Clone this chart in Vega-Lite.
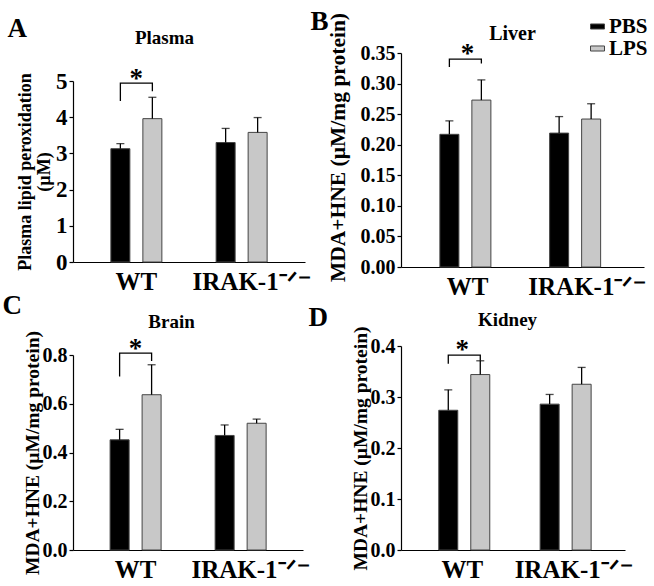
{
  "$schema": "https://vega.github.io/schema/vega-lite/v6.json",
  "padding": {"left": 2, "top": 7, "right": 2, "bottom": 2},
  "background": "white",
  "columns": 2,
  "align": "none",
  "bounds": "flush",
  "spacing": {"row": 79, "column": 92},
  "resolve": {"scale": {"color": "independent"}, "legend": {"color": "independent"}},
  "config": {
    "view": {"stroke": null},
    "axis": {"labelFont": "Liberation Serif", "labelFontWeight": "bold", "labelColor": "#000", "titleFont": "Liberation Serif", "titleFontWeight": "bold", "titleColor": "#000", "domainColor": "#000", "tickColor": "#000", "grid": false, "domainWidth": 1.2, "tickWidth": 1.2},
    "axisY": {"tickSize": 4, "labelPadding": 2, "titlePadding": 4, "labelFontSize": 20, "labelOverlap": false},
    "axisX": {"ticks": false, "tickSize": 0, "labelPadding": 7, "labelFontSize": 25, "labelAngle": 0, "labelOffset": {"condition": {"test": "datum.value === 'WT'", "value": 0}, "value": 10}},
    "legend": {"labelFont": "Liberation Serif", "labelFontWeight": "bold", "labelColor": "#000"}
  },
  "datasets": {
    "bars": [
      {"panel": "A", "genotype": "WT", "treatment": "PBS", "mean": 3.13, "upper": 3.27},
      {"panel": "A", "genotype": "WT", "treatment": "LPS", "mean": 3.96, "upper": 4.55},
      {"panel": "A", "genotype": "IRAK-1⁻ᐟ⁻", "treatment": "PBS", "mean": 3.30, "upper": 3.69},
      {"panel": "A", "genotype": "IRAK-1⁻ᐟ⁻", "treatment": "LPS", "mean": 3.58, "upper": 3.99},
      {"panel": "B", "genotype": "WT", "treatment": "PBS", "mean": 0.217, "upper": 0.239},
      {"panel": "B", "genotype": "WT", "treatment": "LPS", "mean": 0.273, "upper": 0.306},
      {"panel": "B", "genotype": "IRAK-1⁻ᐟ⁻", "treatment": "PBS", "mean": 0.219, "upper": 0.246},
      {"panel": "B", "genotype": "IRAK-1⁻ᐟ⁻", "treatment": "LPS", "mean": 0.242, "upper": 0.267},
      {"panel": "C", "genotype": "WT", "treatment": "PBS", "mean": 0.452, "upper": 0.495},
      {"panel": "C", "genotype": "WT", "treatment": "LPS", "mean": 0.637, "upper": 0.760},
      {"panel": "C", "genotype": "IRAK-1⁻ᐟ⁻", "treatment": "PBS", "mean": 0.470, "upper": 0.513},
      {"panel": "C", "genotype": "IRAK-1⁻ᐟ⁻", "treatment": "LPS", "mean": 0.520, "upper": 0.537},
      {"panel": "D", "genotype": "WT", "treatment": "PBS", "mean": 0.274, "upper": 0.314},
      {"panel": "D", "genotype": "WT", "treatment": "LPS", "mean": 0.344, "upper": 0.371},
      {"panel": "D", "genotype": "IRAK-1⁻ᐟ⁻", "treatment": "PBS", "mean": 0.286, "upper": 0.305},
      {"panel": "D", "genotype": "IRAK-1⁻ᐟ⁻", "treatment": "LPS", "mean": 0.325, "upper": 0.358}
    ],
    "brackets": [
      {"panel": "A", "genotype": "WT", "treatment": "PBS", "value": 4.45, "ord": 1},
      {"panel": "A", "genotype": "WT", "treatment": "PBS", "value": 4.94, "ord": 2},
      {"panel": "A", "genotype": "WT", "treatment": "LPS", "value": 4.94, "ord": 3},
      {"panel": "A", "genotype": "WT", "treatment": "LPS", "value": 4.72, "ord": 4},
      {"panel": "B", "genotype": "WT", "treatment": "PBS", "value": 0.327, "ord": 1},
      {"panel": "B", "genotype": "WT", "treatment": "PBS", "value": 0.340, "ord": 2},
      {"panel": "B", "genotype": "WT", "treatment": "LPS", "value": 0.340, "ord": 3},
      {"panel": "B", "genotype": "WT", "treatment": "LPS", "value": 0.333, "ord": 4},
      {"panel": "C", "genotype": "WT", "treatment": "PBS", "value": 0.712, "ord": 1},
      {"panel": "C", "genotype": "WT", "treatment": "PBS", "value": 0.808, "ord": 2},
      {"panel": "C", "genotype": "WT", "treatment": "LPS", "value": 0.808, "ord": 3},
      {"panel": "C", "genotype": "WT", "treatment": "LPS", "value": 0.775, "ord": 4},
      {"panel": "D", "genotype": "WT", "treatment": "PBS", "value": 0.365, "ord": 1},
      {"panel": "D", "genotype": "WT", "treatment": "PBS", "value": 0.382, "ord": 2},
      {"panel": "D", "genotype": "WT", "treatment": "LPS", "value": 0.382, "ord": 3},
      {"panel": "D", "genotype": "WT", "treatment": "LPS", "value": 0.371, "ord": 4}
    ],
    "stars": [
      {"panel": "A", "genotype": "WT", "value": 5.05},
      {"panel": "B", "genotype": "WT", "value": 0.349},
      {"panel": "C", "genotype": "WT", "value": 0.826},
      {"panel": "D", "genotype": "WT", "value": 0.392}
    ]
  },
  "concat": [
    {
      "width": 232, "height": 209,
      "resolve": {"axis": {"x": "independent"}},
      "layer": [
        {
          "data": {"name": "bars"},
          "transform": [{"filter": "datum.panel === 'A'"}],
          "mark": {"type": "bar", "stroke": "#444", "strokeWidth": 1},
          "encoding": {
            "x": {"field": "genotype", "type": "nominal", "scale": {"domain": ["WT", "IRAK-1⁻ᐟ⁻"], "paddingInner": 0, "paddingOuter": 0.102}, "axis": {"orient": "bottom", "title": "A", "titleX": -66, "titleY": -226, "titleAngle": 0, "titleAlign": "left", "titleBaseline": "alphabetic", "titleFontSize": 27}},
            "xOffset": {"field": "treatment", "type": "nominal", "scale": {"domain": ["PBS", "LPS"], "paddingInner": 0.406, "paddingOuter": 0.848}},
            "y": {"field": "mean", "type": "quantitative", "scale": {"domain": [0, 5], "range": [209, 28], "nice": false}, "axis": {"values": [0, 1, 2, 3, 4, 5], "format": "d", "labelFontSize": 23, "labelOverlap": false, "title": ["Plasma lipid peroxidation", "(µM)"], "titleFontSize": 18, "titleLineHeight": 19.5, "titlePadding": 2}},
            "color": {"field": "treatment", "type": "nominal", "scale": {"domain": ["PBS", "LPS"], "range": ["#000000", "#c8c8c8"]}, "legend": null}
          }
        },
        {
          "data": {"name": "bars"},
          "transform": [{"filter": "datum.panel === 'A'"}],
          "mark": {"type": "rule", "color": "#000", "strokeWidth": 1.3},
          "encoding": {
            "x": {"field": "genotype", "type": "nominal", "axis": {"orient": "top", "title": "Plasma", "titleX": 91, "titleY": -10, "titleAngle": 0, "titleAlign": "center", "titleBaseline": "alphabetic", "titleFontSize": 19, "labels": false, "ticks": false, "domain": false}},
            "xOffset": {"field": "treatment", "type": "nominal"},
            "y": {"field": "mean", "type": "quantitative"},
            "y2": {"field": "upper"}
          }
        },
        {
          "data": {"name": "bars"},
          "transform": [{"filter": "datum.panel === 'A'"}],
          "mark": {"type": "tick", "color": "#000", "size": 8, "thickness": 1.3, "orient": "horizontal"},
          "encoding": {
            "x": {"field": "genotype", "type": "nominal", "axis": null},
            "xOffset": {"field": "treatment", "type": "nominal"},
            "y": {"field": "upper", "type": "quantitative"}
          }
        },
        {
          "data": {"name": "brackets"},
          "transform": [{"filter": "datum.panel === 'A'"}],
          "mark": {"type": "line", "color": "#000", "strokeWidth": 1.3},
          "encoding": {
            "x": {"field": "genotype", "type": "nominal", "axis": null},
            "xOffset": {"field": "treatment", "type": "nominal"},
            "y": {"field": "value", "type": "quantitative"},
            "order": {"field": "ord", "type": "quantitative"}
          }
        },
        {
          "data": {"name": "stars"},
          "transform": [{"filter": "datum.panel === 'A'"}],
          "mark": {"type": "text", "text": "*", "fontSize": 27, "fontWeight": "bold", "font": "Liberation Serif", "baseline": "middle", "color": "#000"},
          "encoding": {
            "x": {"field": "genotype", "type": "nominal", "axis": null},
            "y": {"field": "value", "type": "quantitative"}
          }
        }
      ]
    },
    {
      "width": 243, "height": 214,
      "resolve": {"axis": {"x": "independent"}},
      "layer": [
        {
          "data": {"name": "bars"},
          "transform": [{"filter": "datum.panel === 'B'"}],
          "mark": {"type": "bar", "stroke": "#444", "strokeWidth": 1},
          "encoding": {
            "x": {"field": "genotype", "type": "nominal", "scale": {"domain": ["WT", "IRAK-1⁻ᐟ⁻"], "paddingInner": 0, "paddingOuter": 0.107}, "axis": {"orient": "bottom", "title": "B", "titleX": -91, "titleY": -238, "titleAngle": 0, "titleAlign": "left", "titleBaseline": "alphabetic", "titleFontSize": 27}},
            "xOffset": {"field": "treatment", "type": "nominal", "scale": {"domain": ["PBS", "LPS"], "paddingInner": 0.383, "paddingOuter": 0.886}},
            "y": {"field": "mean", "type": "quantitative", "scale": {"domain": [0, 0.35], "nice": false}, "axis": {"values": [0, 0.05, 0.1, 0.15, 0.2, 0.25, 0.3, 0.35], "tickCount": 8, "format": ".2f", "labelOverlap": false, "title": "MDA+HNE (µM/mg protein)", "titleFontSize": 21.5, "titleY": 94, "titlePadding": 11}},
            "color": {"field": "treatment", "type": "nominal", "scale": {"domain": ["PBS", "LPS"], "range": ["#000000", "#c8c8c8"]}, "legend": {"orient": "none", "legendX": 186, "legendY": -37, "title": null, "symbolType": "M-1,-0.36L1,-0.36L1,0.36L-1,0.36Z", "symbolSize": 196, "symbolStrokeColor": "#444", "symbolStrokeWidth": 1, "labelFontSize": 21, "rowPadding": 0, "labelOffset": 1, "padding": 0}}
          }
        },
        {
          "data": {"name": "bars"},
          "transform": [{"filter": "datum.panel === 'B'"}],
          "mark": {"type": "rule", "color": "#000", "strokeWidth": 1.3},
          "encoding": {
            "x": {"field": "genotype", "type": "nominal", "axis": {"orient": "top", "title": "Liver", "titleX": 111, "titleY": -14, "titleAngle": 0, "titleAlign": "center", "titleBaseline": "alphabetic", "titleFontSize": 20, "labels": false, "ticks": false, "domain": false}},
            "xOffset": {"field": "treatment", "type": "nominal"},
            "y": {"field": "mean", "type": "quantitative", "axis": {"values": [0, 0.05, 0.1, 0.15, 0.2, 0.25, 0.3, 0.35], "tickCount": 8, "format": ".2f", "labelOverlap": false, "title": "MDA+HNE (µM/mg protein)", "titleFontSize": 21.5, "titleY": 94, "titlePadding": 11}},
            "y2": {"field": "upper"}
          }
        },
        {
          "data": {"name": "bars"},
          "transform": [{"filter": "datum.panel === 'B'"}],
          "mark": {"type": "tick", "color": "#000", "size": 8, "thickness": 1.3, "orient": "horizontal"},
          "encoding": {
            "x": {"field": "genotype", "type": "nominal", "axis": null},
            "xOffset": {"field": "treatment", "type": "nominal"},
            "y": {"field": "upper", "type": "quantitative", "axis": {"values": [0, 0.05, 0.1, 0.15, 0.2, 0.25, 0.3, 0.35], "tickCount": 8, "format": ".2f", "labelOverlap": false, "title": "MDA+HNE (µM/mg protein)", "titleFontSize": 21.5, "titleY": 94, "titlePadding": 11}}
          }
        },
        {
          "data": {"name": "brackets"},
          "transform": [{"filter": "datum.panel === 'B'"}],
          "mark": {"type": "line", "color": "#000", "strokeWidth": 1.3},
          "encoding": {
            "x": {"field": "genotype", "type": "nominal", "axis": null},
            "xOffset": {"field": "treatment", "type": "nominal"},
            "y": {"field": "value", "type": "quantitative", "axis": {"values": [0, 0.05, 0.1, 0.15, 0.2, 0.25, 0.3, 0.35], "tickCount": 8, "format": ".2f", "labelOverlap": false, "title": "MDA+HNE (µM/mg protein)", "titleFontSize": 21.5, "titleY": 94, "titlePadding": 11}},
            "order": {"field": "ord", "type": "quantitative"}
          }
        },
        {
          "data": {"name": "stars"},
          "transform": [{"filter": "datum.panel === 'B'"}],
          "mark": {"type": "text", "text": "*", "fontSize": 27, "fontWeight": "bold", "font": "Liberation Serif", "baseline": "middle", "color": "#000"},
          "encoding": {
            "x": {"field": "genotype", "type": "nominal", "axis": null},
            "y": {"field": "value", "type": "quantitative", "axis": {"values": [0, 0.05, 0.1, 0.15, 0.2, 0.25, 0.3, 0.35], "tickCount": 8, "format": ".2f", "labelOverlap": false, "title": "MDA+HNE (µM/mg protein)", "titleFontSize": 21.5, "titleY": 94, "titlePadding": 11}}
          }
        }
      ]
    },
    {
      "width": 236, "height": 204,
      "resolve": {"axis": {"x": "independent"}},
      "layer": [
        {
          "data": {"name": "bars"},
          "transform": [{"filter": "datum.panel === 'C'"}],
          "mark": {"type": "bar", "stroke": "#444", "strokeWidth": 1},
          "encoding": {
            "x": {"field": "genotype", "type": "nominal", "scale": {"domain": ["WT", "IRAK-1⁻ᐟ⁻"], "range": [0, 230], "paddingInner": 0, "paddingOuter": 0.095}, "axis": {"orient": "bottom", "title": "C", "titleX": -71, "titleY": -237, "titleAngle": 0, "titleAlign": "left", "titleBaseline": "alphabetic", "titleFontSize": 27}},
            "xOffset": {"field": "treatment", "type": "nominal", "scale": {"domain": ["PBS", "LPS"], "paddingInner": 0.406, "paddingOuter": 0.843}},
            "y": {"field": "mean", "type": "quantitative", "scale": {"domain": [0, 0.8], "range": [204, 9], "nice": false}, "axis": {"values": [0, 0.2, 0.4, 0.6, 0.8], "format": ".1f", "labelOverlap": false, "title": "MDA+HNE (µM/mg protein)", "titleFontSize": 19.5, "titlePadding": 0}},
            "color": {"field": "treatment", "type": "nominal", "scale": {"domain": ["PBS", "LPS"], "range": ["#000000", "#c8c8c8"]}, "legend": null}
          }
        },
        {
          "data": {"name": "bars"},
          "transform": [{"filter": "datum.panel === 'C'"}],
          "mark": {"type": "rule", "color": "#000", "strokeWidth": 1.3},
          "encoding": {
            "x": {"field": "genotype", "type": "nominal", "axis": {"orient": "top", "title": "Brain", "titleX": 98, "titleY": -19, "titleAngle": 0, "titleAlign": "center", "titleBaseline": "alphabetic", "titleFontSize": 19, "labels": false, "ticks": false, "domain": false}},
            "xOffset": {"field": "treatment", "type": "nominal"},
            "y": {"field": "mean", "type": "quantitative"},
            "y2": {"field": "upper"}
          }
        },
        {
          "data": {"name": "bars"},
          "transform": [{"filter": "datum.panel === 'C'"}],
          "mark": {"type": "tick", "color": "#000", "size": 8, "thickness": 1.3, "orient": "horizontal"},
          "encoding": {
            "x": {"field": "genotype", "type": "nominal", "axis": null},
            "xOffset": {"field": "treatment", "type": "nominal"},
            "y": {"field": "upper", "type": "quantitative"}
          }
        },
        {
          "data": {"name": "brackets"},
          "transform": [{"filter": "datum.panel === 'C'"}],
          "mark": {"type": "line", "color": "#000", "strokeWidth": 1.3},
          "encoding": {
            "x": {"field": "genotype", "type": "nominal", "axis": null},
            "xOffset": {"field": "treatment", "type": "nominal"},
            "y": {"field": "value", "type": "quantitative"},
            "order": {"field": "ord", "type": "quantitative"}
          }
        },
        {
          "data": {"name": "stars"},
          "transform": [{"filter": "datum.panel === 'C'"}],
          "mark": {"type": "text", "text": "*", "fontSize": 27, "fontWeight": "bold", "font": "Liberation Serif", "baseline": "middle", "color": "#000"},
          "encoding": {
            "x": {"field": "genotype", "type": "nominal", "axis": null},
            "y": {"field": "value", "type": "quantitative"}
          }
        }
      ]
    },
    {
      "width": 224, "height": 204,
      "resolve": {"axis": {"x": "independent"}},
      "layer": [
        {
          "data": {"name": "bars"},
          "transform": [{"filter": "datum.panel === 'D'"}],
          "mark": {"type": "bar", "stroke": "#444", "strokeWidth": 1},
          "encoding": {
            "x": {"field": "genotype", "type": "nominal", "scale": {"domain": ["WT", "IRAK-1⁻ᐟ⁻"], "paddingInner": 0, "paddingOuter": 0.105}, "axis": {"orient": "bottom", "title": "D", "titleX": -93, "titleY": -225, "titleAngle": 0, "titleAlign": "left", "titleBaseline": "alphabetic", "titleFontSize": 27}},
            "xOffset": {"field": "treatment", "type": "nominal", "scale": {"domain": ["PBS", "LPS"], "paddingInner": 0.408, "paddingOuter": 0.872}},
            "y": {"field": "mean", "type": "quantitative", "scale": {"domain": [0, 0.4], "nice": false}, "axis": {"values": [0, 0.1, 0.2, 0.3, 0.4], "format": ".1f", "labelOverlap": false, "title": "MDA+HNE (µM/mg protein)", "titleFontSize": 19.5, "titlePadding": 0}},
            "color": {"field": "treatment", "type": "nominal", "scale": {"domain": ["PBS", "LPS"], "range": ["#000000", "#c8c8c8"]}, "legend": null}
          }
        },
        {
          "data": {"name": "bars"},
          "transform": [{"filter": "datum.panel === 'D'"}],
          "mark": {"type": "rule", "color": "#000", "strokeWidth": 1.3},
          "encoding": {
            "x": {"field": "genotype", "type": "nominal", "axis": {"orient": "top", "title": "Kidney", "titleX": 106, "titleY": -21, "titleAngle": 0, "titleAlign": "center", "titleBaseline": "alphabetic", "titleFontSize": 19, "labels": false, "ticks": false, "domain": false}},
            "xOffset": {"field": "treatment", "type": "nominal"},
            "y": {"field": "mean", "type": "quantitative"},
            "y2": {"field": "upper"}
          }
        },
        {
          "data": {"name": "bars"},
          "transform": [{"filter": "datum.panel === 'D'"}],
          "mark": {"type": "tick", "color": "#000", "size": 8, "thickness": 1.3, "orient": "horizontal"},
          "encoding": {
            "x": {"field": "genotype", "type": "nominal", "axis": null},
            "xOffset": {"field": "treatment", "type": "nominal"},
            "y": {"field": "upper", "type": "quantitative"}
          }
        },
        {
          "data": {"name": "brackets"},
          "transform": [{"filter": "datum.panel === 'D'"}],
          "mark": {"type": "line", "color": "#000", "strokeWidth": 1.3},
          "encoding": {
            "x": {"field": "genotype", "type": "nominal", "axis": null},
            "xOffset": {"field": "treatment", "type": "nominal"},
            "y": {"field": "value", "type": "quantitative"},
            "order": {"field": "ord", "type": "quantitative"}
          }
        },
        {
          "data": {"name": "stars"},
          "transform": [{"filter": "datum.panel === 'D'"}],
          "mark": {"type": "text", "text": "*", "fontSize": 27, "fontWeight": "bold", "font": "Liberation Serif", "baseline": "middle", "color": "#000"},
          "encoding": {
            "x": {"field": "genotype", "type": "nominal", "axis": null},
            "y": {"field": "value", "type": "quantitative"}
          }
        }
      ]
    }
  ]
}
